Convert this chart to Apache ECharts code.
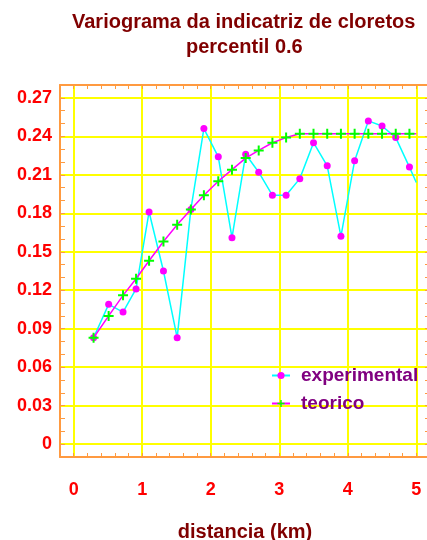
<!DOCTYPE html>
<html>
<head>
<meta charset="utf-8">
<script src="https://cdn.jsdelivr.net/npm/echarts@6/dist/echarts.min.js"></script>
<style>
  html, body { margin: 0; padding: 0; background: #fff; }
  #chart { width: 427px; height: 540px; }
</style>
</head>
<body>
<div id="chart"></div>
<script>
// distances (km) of the lags, the last entry is the end of the drawn curve
var distancia = [0.29, 0.51, 0.72, 0.91, 1.10, 1.31, 1.51, 1.71, 1.90, 2.11, 2.31, 2.51,
                 2.70, 2.90, 3.10, 3.30, 3.50, 3.70, 3.90, 4.10, 4.30, 4.50, 4.70, 4.90, 5.00];
var experimental = [0.083, 0.109, 0.103, 0.121, 0.181, 0.135, 0.083, 0.183, 0.246, 0.224, 0.161, 0.226,
                    0.212, 0.194, 0.194, 0.207, 0.235, 0.217, 0.162, 0.221, 0.252, 0.248, 0.239, 0.216, 0.204];
var teorico = [0.083, 0.100, 0.116, 0.129, 0.143, 0.158, 0.171, 0.183, 0.194, 0.205, 0.214, 0.223,
               0.229, 0.235, 0.239, 0.242, 0.242, 0.242, 0.242, 0.242, 0.242, 0.242, 0.242, 0.242, 0.242];
var xTicks = ['0', '1', '2', '3', '4', '5'];
var yTicks = ['0', '0.03', '0.06', '0.09', '0.12', '0.15', '0.18', '0.21', '0.24', '0.27'];

var orange = '#ff9a40';
var plus = 'path://M4,0h2v10h-2z M0,4h10v2h-10z';
var titleFont = {
    fontFamily: 'Liberation Sans',
    fontSize: 20,
    fontWeight: 'bold',
    color: '#800000'
};

function pairs(ys) {
    return distancia.map(function (d, i) {
        var item = { value: [d, ys[i]] };
        if (i === distancia.length - 1) item.symbol = 'none';
        return item;
    });
}

function xLabel(v) {
    var r = Math.round(v * 10) / 10;
    var s = String(r);
    return xTicks.indexOf(s) >= 0 ? s : '';
}
function yLabel(v) {
    var r = Math.round(v * 100) / 100;
    var s = r === 0 ? '0' : r.toFixed(2);
    return yTicks.indexOf(s) >= 0 ? s : '';
}

var chart = echarts.init(document.getElementById('chart'));
chart.setOption({
    animation: false,
    title: [{
        text: 'Variograma da indicatriz de cloretos',
        left: 72,
        top: 12,
        padding: 0,
        textStyle: titleFont
    }, {
        text: 'percentil 0.6',
        left: 186,
        top: 37,
        padding: 0,
        textStyle: titleFont
    }],
    grid: {
        left: 60,
        top: 85,
        width: 370,
        height: 372,
        containLabel: false,
        outerBoundsMode: 'none'
    },
    legend: {
        orient: 'vertical',
        left: 271,
        top: 366,
        padding: 0,
        itemWidth: 18,
        itemHeight: 9,
        itemGap: 9,
        textStyle: {
            fontFamily: 'Liberation Sans',
            fontSize: 19,
            fontWeight: 'bold',
            color: '#800080',
            padding: [0, 0, 0, 6]
        },
        data: ['experimental', 'teorico']
    },
    xAxis: [{
        type: 'value',
        min: -0.2,
        max: 5.2,
        interval: 0.2,
        name: 'distancia (km)',
        nameLocation: 'middle',
        nameGap: 65,
        nameTextStyle: titleFont,
        axisLine: { show: true, onZero: false, lineStyle: { color: orange, width: 2 } },
        axisTick: { show: true, inside: true, length: 4, lineStyle: { color: orange } },
        axisLabel: {
            margin: 24,
            formatter: xLabel,
            fontFamily: 'Liberation Sans',
            fontSize: 18,
            fontWeight: 'bold',
            color: '#ff0000'
        },
        splitLine: {
            show: true,
            lineStyle: { color: ['transparent', '#ffff00', 'transparent', 'transparent', 'transparent'], width: 2 }
        }
    }, {
        type: 'value',
        position: 'top',
        min: -0.2,
        max: 5.2,
        interval: 0.2,
        axisLine: { show: true, onZero: false, lineStyle: { color: orange, width: 2 } },
        axisTick: { show: true, inside: true, length: 4, lineStyle: { color: orange } },
        axisLabel: { show: false },
        splitLine: { show: false }
    }],
    yAxis: [{
        type: 'value',
        min: -0.01,
        max: 0.28,
        interval: 0.01,
        axisLine: { show: true, onZero: false, lineStyle: { color: orange, width: 2 } },
        axisTick: { show: true, inside: true, length: 5, lineStyle: { color: orange } },
        axisLabel: {
            margin: 8,
            formatter: yLabel,
            fontFamily: 'Liberation Sans',
            fontSize: 18,
            fontWeight: 'bold',
            color: '#ff0000'
        },
        splitLine: {
            show: true,
            lineStyle: { color: ['transparent', '#ffff00', 'transparent'], width: 2 }
        }
    }, {
        type: 'value',
        position: 'right',
        min: -0.01,
        max: 0.28,
        interval: 0.01,
        axisLine: { show: true, onZero: false, lineStyle: { color: orange, width: 2 } },
        axisTick: { show: true, inside: true, length: 5, lineStyle: { color: orange } },
        axisLabel: { show: false },
        splitLine: { show: false }
    }],
    series: [{
        name: 'experimental',
        type: 'line',
        data: pairs(experimental),
        symbol: 'circle',
        symbolSize: 7,
        showAllSymbol: true,
        itemStyle: { color: '#ff00ff' },
        lineStyle: { color: '#00ffff', width: 1.5 },
        z: 3
    }, {
        name: 'teorico',
        type: 'line',
        data: pairs(teorico),
        symbol: plus,
        symbolSize: 10,
        showAllSymbol: true,
        itemStyle: { color: '#00ff00' },
        lineStyle: { color: '#ff00ff', width: 1.5 },
        z: 4
    }]
});
</script>
</body>
</html>
